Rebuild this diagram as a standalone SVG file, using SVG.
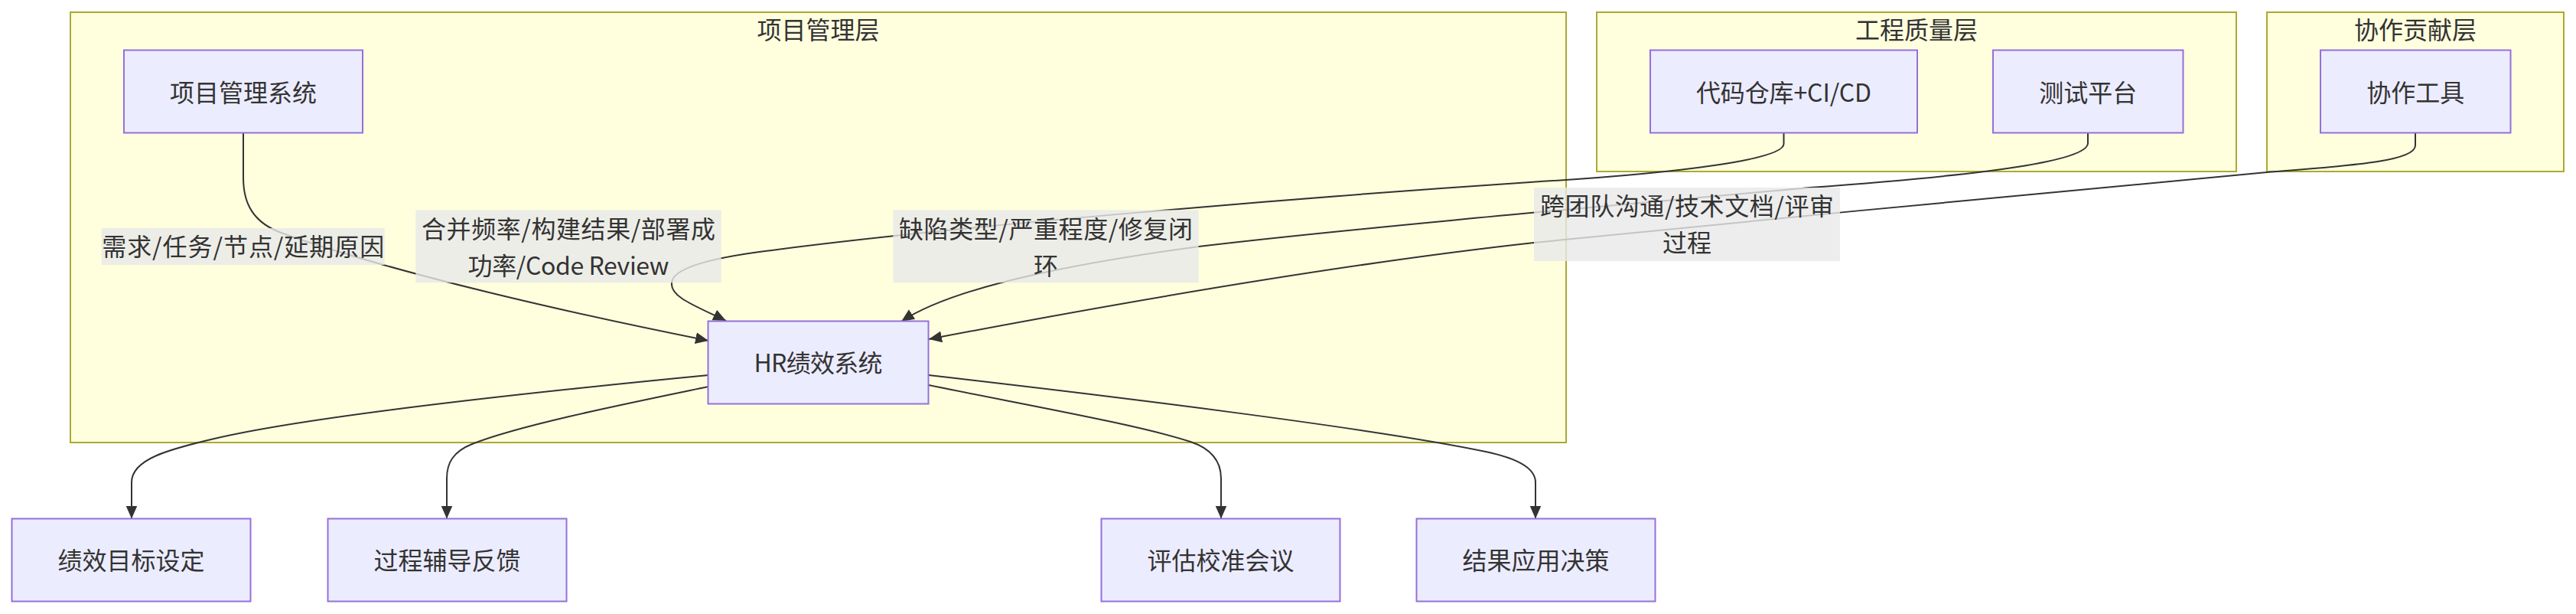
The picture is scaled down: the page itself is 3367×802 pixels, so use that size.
<svg xmlns="http://www.w3.org/2000/svg" width="3367" height="802" viewBox="0 0 3367 802">
<defs>
<marker id="arrow" viewBox="0 0 10 10" refX="10" refY="5" markerUnits="userSpaceOnUse" markerWidth="17" markerHeight="17" orient="auto">
<path d="M0,0.6 L10,5 L0,9.4 z" fill="#333333"/>
</marker>
<style>
text{font-family:"Noto Sans CJK SC","Noto Sans",sans-serif;font-size:32px;fill:#333333;text-anchor:middle}
.cluster rect{fill:#ffffde;stroke:#aaaa33;stroke-width:2}
.node rect{fill:#ececff;stroke:#9370db;stroke-width:2}
.edge{fill:none;stroke:#333333;stroke-width:2;marker-end:url(#arrow)}
.lbl rect{fill:rgba(232,232,232,0.8);stroke:none}
</style>
</defs>
<rect width="3367" height="802" fill="#ffffff"/>
<g id="cluster-pm" class="cluster">
<rect x="92" y="16" width="1955" height="562"/>
<text x="1069.5" y="51">项目管理层</text>
</g>
<g id="cluster-eq" class="cluster">
<rect x="2087" y="16" width="836" height="208"/>
<text x="2505" y="51">工程质量层</text>
</g>
<g id="cluster-co" class="cluster">
<rect x="2963" y="16" width="388" height="208"/>
<text x="3157" y="51">协作贡献层</text>
</g>
<g id="connectors">
<path class="edge" d="M318,174 V232 C318,265 330,291 370,305 C520,358 750,410 926,445"/>
<path class="edge" d="M2331.5,174 V188 C2331.5,208 2200,226 2000,238 C1700,258 1250,295 1000,328 C930,337 878,350 878,370 C876,388 910,400 949,419"/>
<path class="edge" d="M2729,174 V187 C2729,210 2600,228 2366,245 C2100,269 1750,300 1567,322 C1420,342 1250,372 1178,420"/>
<path class="edge" d="M3157,174 V190 C3157,212 3060,217 2963,225 C2700,248 2300,288 2005,317 C1750,345 1450,398 1214,443"/>
<path class="edge" d="M926,490 C760,506 420,540 280,573 C220,587 172,600 172,630 V677.5"/>
<path class="edge" d="M926,505 C820,527 680,555 617,580 C592,590 584,605 584,625 V677.5"/>
<path class="edge" d="M1214,503 C1330,527 1490,555 1556,577 C1580,585 1596,600 1596,625 V677.5"/>
<path class="edge" d="M1214,490 C1450,517 1800,560 1942,590 C1985,599 2007,612 2007,630 V677.5"/>
</g>
<g id="edge-labels">
<g id="label-pm" class="lbl">
<rect x="132.7" y="298" width="370" height="48"/>
<text x="317.7" y="334" textLength="369" lengthAdjust="spacing">需求/任务/节点/延期原因</text>
</g>
<g id="label-ci" class="lbl">
<rect x="543.3" y="274.3" width="399.4" height="95"/>
<text x="743" y="310.5" textLength="384" lengthAdjust="spacing">合并频率/构建结果/部署成</text>
<text x="743" y="358.5" textLength="263" lengthAdjust="spacing">功率/Code Review</text>
</g>
<g id="label-test" class="lbl">
<rect x="1167.3" y="274.3" width="399.4" height="95"/>
<text x="1367" y="310.5" textLength="384" lengthAdjust="spacing">缺陷类型/严重程度/修复闭</text>
<text x="1367" y="358.5">环</text>
</g>
<g id="label-co" class="lbl">
<rect x="2005" y="245" width="400" height="96"/>
<text x="2205" y="281" textLength="384" lengthAdjust="spacing">跨团队沟通/技术文档/评审</text>
<text x="2205" y="329">过程</text>
</g>
</g>
<g id="node-pms" class="node">
<rect x="162" y="65.5" width="312" height="108"/>
<text x="318" y="132.5">项目管理系统</text>
</g>
<g id="node-repo" class="node">
<rect x="2157" y="65.5" width="349" height="108"/>
<text x="2331.5" y="132.5" textLength="229" lengthAdjust="spacing">代码仓库+CI/CD</text>
</g>
<g id="node-test" class="node">
<rect x="2605" y="65.5" width="248.5" height="108"/>
<text x="2729.2" y="132.5">测试平台</text>
</g>
<g id="node-collab" class="node">
<rect x="3033" y="65.5" width="248.5" height="108"/>
<text x="3157.2" y="132.5">协作工具</text>
</g>
<g id="node-hr" class="node">
<rect x="925.5" y="419.5" width="288" height="108"/>
<text x="1069.5" y="486" textLength="168" lengthAdjust="spacing">HR绩效系统</text>
</g>
<g id="node-goal" class="node">
<rect x="15.5" y="677.5" width="312" height="108"/>
<text x="171.5" y="744">绩效目标设定</text>
</g>
<g id="node-coach" class="node">
<rect x="428.5" y="677.5" width="312" height="108"/>
<text x="584.5" y="744">过程辅导反馈</text>
</g>
<g id="node-calib" class="node">
<rect x="1439.5" y="677.5" width="312" height="108"/>
<text x="1595.5" y="744">评估校准会议</text>
</g>
<g id="node-apply" class="node">
<rect x="1851.5" y="677.5" width="312" height="108"/>
<text x="2007.5" y="744">结果应用决策</text>
</g>
</svg>
